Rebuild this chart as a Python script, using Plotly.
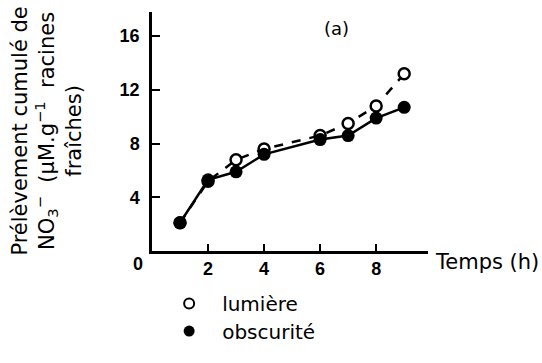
import plotly.graph_objects as go

temps = [1, 2, 3, 4, 6, 7, 8, 9]
lumiere = [2.1, 5.2, 6.8, 7.6, 8.6, 9.5, 10.8, 13.2]
obscurite = [2.1, 5.3, 5.9, 7.2, 8.3, 8.6, 9.9, 10.7]
x_ticks = [2, 4, 6, 8]
y_ticks = [4, 8, 12, 16]

fig = go.Figure()
fig.add_trace(go.Scatter(x=temps, y=lumiere, mode="lines+markers",
                         line=dict(color="black", width=2.5, dash="dash"),
                         marker=dict(size=11, color="white", line=dict(color="black", width=2.5)),
                         showlegend=False))
fig.add_trace(go.Scatter(x=temps, y=obscurite, mode="lines+markers",
                         line=dict(color="black", width=2.5),
                         marker=dict(size=13, color="black"),
                         showlegend=False))
fig.add_trace(go.Scatter(x=[None], y=[None], mode="markers", name="lumière",
                         legend="legend",
                         marker=dict(size=10, color="white", line=dict(color="black", width=2))))
fig.add_trace(go.Scatter(x=[None], y=[None], mode="markers", name="obscurité",
                         legend="legend2",
                         marker=dict(size=11, color="black")))

leg_common = dict(xanchor="left", yanchor="middle", bgcolor="rgba(0,0,0,0)",
                  font=dict(size=20, family="DejaVu Sans"), itemwidth=56)

tickfont = dict(size=18, family="Liberation Sans", weight="bold")

ytitle = ("Prélèvement cumulé de<br>"
          "NO<sub>3</sub><sup>−</sup>  (µM.g<sup>−1</sup>  racines<br>"
          "fraîches)")

fig.update_layout(
    width=542, height=363,
    margin=dict(l=152, r=114, t=12, b=101),
    paper_bgcolor="white", plot_bgcolor="white",
    font=dict(family="DejaVu Sans", color="black"),
    legend=dict(x=0.015, y=-0.22, **leg_common),
    legend2=dict(x=0.015, y=-0.335, **leg_common),
    xaxis=dict(range=[0, 9.85], tickvals=x_ticks, ticks="inside", ticklen=7,
               tickwidth=2, tickcolor="black", showline=True, linecolor="black",
               linewidth=2.5, showgrid=False, zeroline=False, tickfont=tickfont),
    yaxis=dict(range=[0, 17.8], tickvals=y_ticks, ticks="inside", ticklen=8,
               tickwidth=2, tickcolor="black", showline=True, linecolor="black",
               linewidth=2.5, showgrid=False, zeroline=False, tickfont=tickfont,
               ticklabelstandoff=6),
    annotations=[
        dict(text="(a)", x=0.67, y=0.932, xref="paper", yref="paper", showarrow=False,
             xanchor="center", yanchor="middle", font=dict(size=18)),
        dict(text="0", x=-0.05, y=-0.056, xref="paper", yref="paper", showarrow=False,
             xanchor="center", yanchor="middle", font=tickfont),
        dict(text="Temps (h)", x=1.018, y=-0.045, xref="paper", yref="paper",
             xanchor="left", yanchor="middle", showarrow=False, font=dict(size=21)),
        dict(text=ytitle, x=-0.38, y=0.5, xref="paper", yref="paper",
             xanchor="center", yanchor="middle", align="center",
             textangle=-90, showarrow=False, font=dict(size=21)),
    ],
)
fig.write_html("out.html", config={"displayModeBar": False},
               post_script="document.body.style.margin='0';document.body.style.padding='0';")
